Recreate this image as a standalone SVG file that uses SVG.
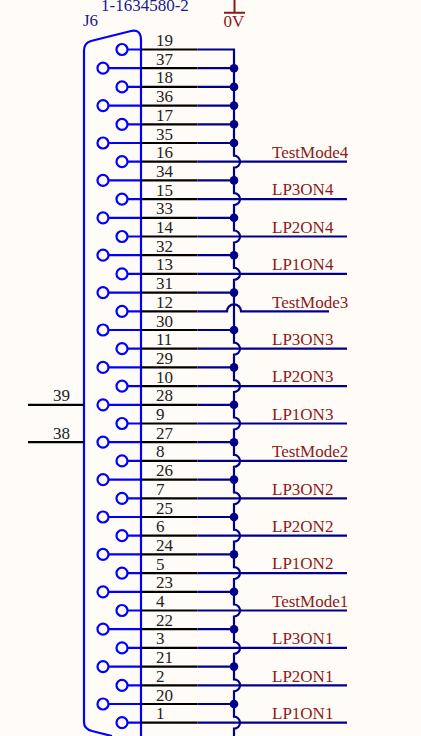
<svg xmlns="http://www.w3.org/2000/svg" width="421" height="736" viewBox="0 0 421 736">
<style>
text{font-family:"Liberation Serif","Times New Roman",serif;font-size:17px}
.n{fill:#222}.s{fill:#8b1a1a}.d{fill:#1a1a8c}
.b{stroke:#0000ff;stroke-width:2.2;fill:none}.k{stroke:#000;stroke-width:2.2;fill:none}.w{stroke:#00008b;stroke-width:2.2;fill:none}
.r{stroke:#8b1a1a;stroke-width:2;fill:none}
.j{fill:#00008b}
</style>
<rect width="421" height="736" fill="#fffcf7"/>
<g id="J6">
<path class="b" d="M84 722V51Q84 43 91 41L131 31Q141 29 141 40V736M84 722Q84 729 92 731L112 736"/>
<text class="d" x="101" y="11">1-1634580-2</text>
<text class="d" x="83" y="26">J6</text>
</g>
<g id="pins">
<g class="b">
<circle cx="122" cy="49.5" r="5.5"/><circle cx="103" cy="68.2" r="5.5"/><circle cx="122" cy="86.9" r="5.5"/><circle cx="103" cy="105.6" r="5.5"/><circle cx="122" cy="124.3" r="5.5"/><circle cx="103" cy="143" r="5.5"/><circle cx="122" cy="161.7" r="5.5"/><circle cx="103" cy="180.4" r="5.5"/><circle cx="122" cy="199.1" r="5.5"/><circle cx="103" cy="217.8" r="5.5"/><circle cx="122" cy="236.5" r="5.5"/><circle cx="103" cy="255.2" r="5.5"/><circle cx="122" cy="273.9" r="5.5"/><circle cx="103" cy="292.6" r="5.5"/><circle cx="122" cy="311.3" r="5.5"/><circle cx="103" cy="330" r="5.5"/><circle cx="122" cy="348.7" r="5.5"/><circle cx="103" cy="367.4" r="5.5"/><circle cx="122" cy="386.1" r="5.5"/><circle cx="103" cy="404.8" r="5.5"/><circle cx="122" cy="423.5" r="5.5"/><circle cx="103" cy="442.2" r="5.5"/><circle cx="122" cy="460.9" r="5.5"/><circle cx="103" cy="479.6" r="5.5"/><circle cx="122" cy="498.3" r="5.5"/><circle cx="103" cy="517" r="5.5"/><circle cx="122" cy="535.7" r="5.5"/><circle cx="103" cy="554.4" r="5.5"/><circle cx="122" cy="573.1" r="5.5"/><circle cx="103" cy="591.8" r="5.5"/><circle cx="122" cy="610.5" r="5.5"/><circle cx="103" cy="629.2" r="5.5"/><circle cx="122" cy="647.9" r="5.5"/><circle cx="103" cy="666.6" r="5.5"/><circle cx="122" cy="685.3" r="5.5"/><circle cx="103" cy="704" r="5.5"/><circle cx="122" cy="722.7" r="5.5"/>
<path d="M127.5 49.5H141M108.5 68.2H141M127.5 86.9H141M108.5 105.6H141M127.5 124.3H141M108.5 143H141M127.5 161.7H141M108.5 180.4H141M127.5 199.1H141M108.5 217.8H141M127.5 236.5H141M108.5 255.2H141M127.5 273.9H141M108.5 292.6H141M127.5 311.3H141M108.5 330H141M127.5 348.7H141M108.5 367.4H141M127.5 386.1H141M108.5 404.8H141M127.5 423.5H141M108.5 442.2H141M127.5 460.9H141M108.5 479.6H141M127.5 498.3H141M108.5 517H141M127.5 535.7H141M108.5 554.4H141M127.5 573.1H141M108.5 591.8H141M127.5 610.5H141M108.5 629.2H141M127.5 647.9H141M108.5 666.6H141M127.5 685.3H141M108.5 704H141M127.5 722.7H141"/>
</g>
<path class="k" d="M141 49.5H197.5M141 68.2H197.5M141 86.9H197.5M141 105.6H197.5M141 124.3H197.5M141 143H197.5M141 161.7H197.5M141 180.4H197.5M141 199.1H197.5M141 217.8H197.5M141 236.5H197.5M141 255.2H197.5M141 273.9H197.5M141 292.6H197.5M141 311.3H197.5M141 330H197.5M141 348.7H197.5M141 367.4H197.5M141 386.1H197.5M141 404.8H197.5M141 423.5H197.5M141 442.2H197.5M141 460.9H197.5M141 479.6H197.5M141 498.3H197.5M141 517H197.5M141 535.7H197.5M141 554.4H197.5M141 573.1H197.5M141 591.8H197.5M141 610.5H197.5M141 629.2H197.5M141 647.9H197.5M141 666.6H197.5M141 685.3H197.5M141 704H197.5M141 722.7H197.5M28 404.8H84M28 442.2H84"/>
<g class="n">
<text x="156" y="46">19</text><text x="156" y="64.7">37</text><text x="156" y="83.4">18</text><text x="156" y="102.1">36</text><text x="156" y="120.8">17</text><text x="156" y="139.5">35</text><text x="156" y="158.2">16</text><text x="156" y="176.9">34</text><text x="156" y="195.6">15</text><text x="156" y="214.3">33</text><text x="156" y="233">14</text><text x="156" y="251.7">32</text><text x="156" y="270.4">13</text><text x="156" y="289.1">31</text><text x="156" y="307.8">12</text><text x="156" y="326.5">30</text><text x="156" y="345.2">11</text><text x="156" y="363.9">29</text><text x="156" y="382.6">10</text><text x="156" y="401.3">28</text><text x="156" y="420">9</text><text x="156" y="438.7">27</text><text x="156" y="457.4">8</text><text x="156" y="476.1">26</text><text x="156" y="494.8">7</text><text x="156" y="513.5">25</text><text x="156" y="532.2">6</text><text x="156" y="550.9">24</text><text x="156" y="569.6">5</text><text x="156" y="588.3">23</text><text x="156" y="607">4</text><text x="156" y="625.7">22</text><text x="156" y="644.4">3</text><text x="156" y="663.1">21</text><text x="156" y="681.8">2</text><text x="156" y="700.5">20</text><text x="156" y="719.2">1</text>
<text x="53" y="401.3">39</text><text x="53" y="438.7">38</text>
</g>
</g>
<g id="connectors">
<path class="w" d="M197.5 49.5H234V155.7A6 6 0 0 1 234 167.7V193.1A6 6 0 0 1 234 205.1V230.5A6 6 0 0 1 234 242.5V267.9A6 6 0 0 1 234 279.9V342.7A6 6 0 0 1 234 354.7V380.1A6 6 0 0 1 234 392.1V417.5A6 6 0 0 1 234 429.5V454.9A6 6 0 0 1 234 466.9V492.3A6 6 0 0 1 234 504.3V529.7A6 6 0 0 1 234 541.7V567.1A6 6 0 0 1 234 579.1V604.5A6 6 0 0 1 234 616.5V641.9A6 6 0 0 1 234 653.9V679.3A6 6 0 0 1 234 691.3V716.7A6 6 0 0 1 234 728.700V736"/>
<path class="w" d="M197.5 68.2H234M197.5 86.9H234M197.5 105.6H234M197.5 124.3H234M197.5 143H234M197.5 180.4H234M197.5 217.8H234M197.5 255.2H234M197.5 292.6H234M197.5 330H234M197.5 367.4H234M197.5 404.8H234M197.5 442.2H234M197.5 479.6H234M197.5 517H234M197.5 554.4H234M197.5 591.8H234M197.5 629.2H234M197.5 666.6H234M197.5 704H234"/>
<path class="w" d="M197.5 161.7H347M197.5 199.1H347M197.5 236.5H347M197.5 273.9H347M197.5 311.3H227A7 7 0 0 1 241 311.3H329M197.5 348.7H347M197.5 386.1H347M197.5 423.5H347M197.5 460.9H347M197.5 498.3H347M197.5 535.7H347M197.5 573.1H347M197.5 610.5H347M197.5 647.9H347M197.5 685.3H347M197.5 722.7H347"/>
<g class="j">
<circle cx="234" cy="68.2" r="4.300"/><circle cx="234" cy="86.9" r="4.300"/><circle cx="234" cy="105.6" r="4.300"/><circle cx="234" cy="124.3" r="4.300"/><circle cx="234" cy="143" r="4.300"/><circle cx="234" cy="180.4" r="4.300"/><circle cx="234" cy="217.8" r="4.300"/><circle cx="234" cy="255.2" r="4.300"/><circle cx="234" cy="292.6" r="4.300"/><circle cx="234" cy="330" r="4.300"/><circle cx="234" cy="367.4" r="4.300"/><circle cx="234" cy="404.8" r="4.300"/><circle cx="234" cy="442.2" r="4.300"/><circle cx="234" cy="479.6" r="4.300"/><circle cx="234" cy="517" r="4.300"/><circle cx="234" cy="554.4" r="4.300"/><circle cx="234" cy="591.8" r="4.300"/><circle cx="234" cy="629.2" r="4.300"/><circle cx="234" cy="666.6" r="4.300"/><circle cx="234" cy="704" r="4.300"/>
</g>
</g>
<g id="gnd">
<path class="r" d="M234.500 0V12.700M224 12.700H245"/>
<text class="s" x="223.500" y="27">0V</text>
</g>
<g id="labels" class="s">
<text x="272" y="158">TestMode4</text><text x="272" y="195.400">LP3ON4</text><text x="272" y="232.800">LP2ON4</text><text x="272" y="270.200">LP1ON4</text><text x="272" y="307.600">TestMode3</text><text x="272" y="345">LP3ON3</text><text x="272" y="382.400">LP2ON3</text><text x="272" y="419.800">LP1ON3</text><text x="272" y="457.200">TestMode2</text><text x="272" y="494.600">LP3ON2</text><text x="272" y="532">LP2ON2</text><text x="272" y="569.400">LP1ON2</text><text x="272" y="606.800">TestMode1</text><text x="272" y="644.200">LP3ON1</text><text x="272" y="681.600">LP2ON1</text><text x="272" y="719">LP1ON1</text>
</g>
</svg>
